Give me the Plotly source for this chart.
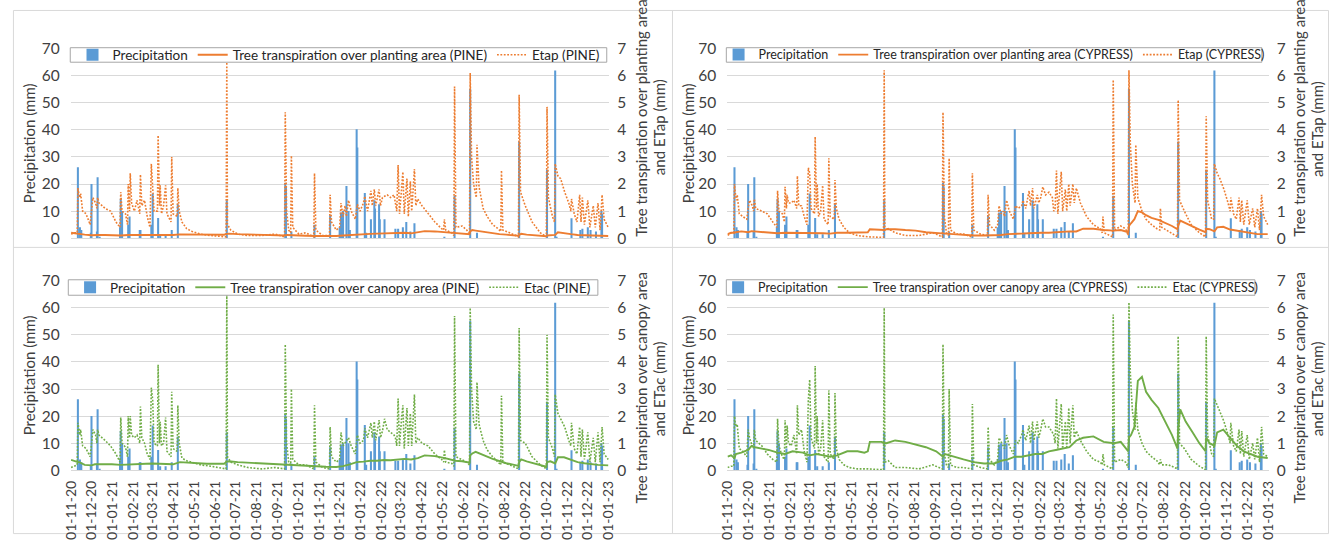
import pandas as pd
import plotly.graph_objects as go

W, H = 1338, 544
START = pd.Timestamp("2020-11-01")

# ---------------- data (day offsets from 2020-11-01) ----------------
precip_day = [10, 13, 15, 29, 30, 38, 39, 42, 72, 73,
              75, 84, 86, 101, 102, 118, 120, 128, 131, 139,
              148, 157, 229, 315, 316, 324, 358, 381, 395, 397,
              399, 400, 405, 408, 410, 420, 421, 432, 434, 441,
              446, 447, 453, 454, 461, 477, 481, 488, 493, 499,
              505, 549, 564, 587, 597, 659, 700, 712, 714, 736,
              749, 752, 760, 764, 772, 780, 781]
precip_mm = [26.2, 4, 3, 2, 20, 2.5, 22.5, 0.5, 4, 14.6,
             10, 5, 8, 3, 3, 5, 16.5, 7.5, 1.5, 1.5,
             3, 12.5, 14, 20.5, 19, 2.5, 5, 8.5, 4, 9.5,
             7, 10, 19.3, 10, 3, 40.2, 33.5, 16.7, 2, 7,
             14, 11, 12.5, 7, 7, 3.5, 3.5, 4, 6, 2.5,
             5.5, 0.5, 15.7, 55.1, 2, 35.7, 25.3, 61.9, 0.5, 7.4,
             3, 3.5, 4, 3, 2.5, 10, 9]

et_day = [0, 5, 9, 10, 11, 13, 14, 17, 22, 28,
          30, 32, 36, 38, 39, 41, 50, 58, 66, 72,
          73, 75, 80, 83, 84, 86, 87, 89, 93, 97,
          101, 102, 104, 108, 112, 116, 118, 120, 122, 127,
          128, 130, 131, 133, 136, 139, 141, 147, 148, 150,
          156, 157, 159, 163, 170, 178, 190, 205, 228, 229,
          230, 235, 245, 260, 280, 300, 314, 315, 317, 320,
          323, 324, 326, 335, 345, 357, 358, 360, 370, 380,
          381, 383, 390, 395, 397, 400, 403, 405, 408, 412,
          418, 421, 425, 430, 432, 436, 441, 443, 446, 448,
          453, 455, 458, 461, 465, 470, 475, 477, 479, 481,
          483, 486, 488, 490, 494, 496, 499, 501, 505, 507,
          510, 516, 525, 535, 545, 548, 549, 551, 560, 563,
          564, 566, 575, 582, 586, 587, 589, 592, 596, 597,
          600, 606, 612, 620, 628, 632, 633, 635, 645, 655,
          658, 659, 661, 668, 678, 690, 699, 700, 702, 708,
          711, 712, 716, 720, 726, 732, 735, 736, 740, 744,
          748, 750, 752, 755, 760, 763, 768, 771, 775, 778,
          781, 784, 790]

etap_pine = [.15, .20, .20, 1.85, 1.7, 1.5, 1.65, 1.0, .9, .5,
             1.0, 1.5, 1.3, 1.1, 1.5, 1.3, 1.1, 1.0, .6, .4,
             1.7, 1.0, .9, .5, 2.0, 1.0, 2.4, 1.3, 1.0, 1.4,
             .9, 2.35, 1.2, 1.4, .8, .4, 2.75, 1.6, 1.0, 1.0,
             3.8, 1.2, 1.95, .9, 1.2, 1.95, .9, .6, 3.0, .9,
             .8, 1.85, 1.0, .6, .35, .25, .15, .1, .05, 6.5,
             .5, .3, .15, .1, .1, .15, .05, 4.65, 1.0, .3,
             .2, 3.05, .4, .15, .2, .05, 2.4, .3, .1, .1,
             1.6, .6, .3, .4, 1.3, .8, 1.2, .8, 1.4, 1.0,
             .7, 1.25, 1.0, 1.3, 1.55, 1.0, 1.75, 1.2, 1.8, 1.2,
             1.8, 1.2, 1.5, 1.55, 1.6, 1.5, 1.6, 1.3, 1.0, 2.7,
             .9, 1.8, 2.45, .9, 2.2, .8, 2.1, 1.0, 2.55, 1.2,
             1.45, 1.2, .9, .6, .35, .3, .7, .3, .2, .1,
             5.6, .4, .45, .3, .15, 6.1, 3.0, 2.0, 1.5, 3.45,
             1.9, 1.1, .8, .5, .35, .25, 2.5, .3, .2, .1,
             .05, 5.3, 1.7, 1.2, .6, .2, .05, 4.85, 1.5, .8,
             .6, 2.75, 2.3, 2.2, 1.7, 1.3, 1.0, 1.45, .9, .6,
             1.6, .6, 1.5, .5, 1.4, .4, 1.2, .4, 1.3, .3,
             1.6, .7, .4]

etac_pine = [.10, .15, .20, 1.75, 1.6, 1.3, 1.5, .9, .8, .5,
             .95, 1.5, 1.3, 1.0, 1.5, 1.3, 1.1, .9, .6, .3,
             1.95, 1.0, .85, .5, 2.0, 1.2, 2.0, 1.3, 1.2, 1.3,
             1.0, 2.35, 1.2, 1.0, .6, .4, 3.05, 2.6, 1.0, .9,
             3.9, 1.0, 1.8, .9, 1.0, 1.95, .7, .5, 2.9, .8,
             .7, 2.4, 1.0, .45, .35, .3, .2, .15, .05, 6.5,
             .5, .3, .2, .1, .05, .1, .05, 4.65, 1.0, .3,
             .2, 3.0, .4, .2, .2, .05, 2.4, .3, .1, .05,
             1.6, .5, .3, .4, 1.4, .9, 1.0, 1.1, 1.2, .9,
             .6, 1.3, 1.0, 1.1, 1.55, 1.2, 1.75, 1.2, 1.8, 1.1,
             1.85, 1.2, 1.45, 1.9, 1.5, 1.4, 1.3, 1.2, .9, 2.65,
             .9, 1.9, 2.4, .8, 2.3, .9, 2.1, .9, 2.8, 1.0,
             1.2, 1.0, .9, .6, .4, .3, .75, .3, .25, .15,
             5.7, .5, .4, .3, .2, 6.0, 3.0, 1.8, 1.5, 3.25,
             1.7, 1.1, .75, .5, .3, .2, 2.75, .3, .2, .1,
             .05, 5.25, 1.1, 1.0, .5, .2, .05, 5.0, 1.2, .8,
             .5, 2.8, 2.1, 1.9, 1.6, 1.1, .9, 1.75, .8, .6,
             1.6, .5, 1.5, .4, 1.4, .3, 1.2, .3, 1.4, .3,
             1.6, .6, .4]

etap_cypress = [.10, .20, .20, 2.0, 1.7, 1.4, 1.6, .9, .8, .7,
                1.1, 1.4, 1.2, 1.0, 1.45, 1.1, 1.0, .9, .6, .4,
                1.75, 1.0, .9, .6, 1.9, 1.1, 1.6, 1.3, 1.3, 1.4,
                1.1, 2.3, 1.2, 1.2, .8, .5, 2.6, 2.4, 1.1, .9,
                3.75, 1.1, 2.0, .8, 1.0, 1.95, .7, .5, 2.95, .8,
                .7, 2.15, 1.1, .7, .4, .2, .1, .05, .03, 6.2,
                .3, .35, .2, .1, .1, .2, .05, 4.65, .8, .2,
                .1, 2.95, .3, .15, .15, .05, 2.4, .3, .15, .1,
                1.6, .5, .3, .5, 1.2, .9, 1.0, .8, 1.4, 1.0,
                .7, 1.2, 1.1, 1.2, 1.4, 1.1, 1.75, 1.2, 1.85, 1.1,
                1.6, 1.3, 1.5, 1.9, 1.6, 1.7, 1.5, 1.0, 1.1, 2.5,
                .9, 1.9, 2.45, 1.0, 1.8, 1.0, 2.0, 1.2, 2.0, 1.3,
                1.85, 1.3, .8, .5, .35, .2, .8, .2, .1, .05,
                5.85, .3, .45, .35, .1, 6.2, 3.5, 2.0, 1.3, 3.45,
                1.5, 1.0, .7, .5, .35, .3, 1.1, .4, .25, .1,
                .05, 5.1, 1.4, 1.0, .5, .2, .05, 4.5, 1.4, .7,
                .7, 2.75, 2.4, 2.2, 1.8, 1.3, 1.0, 1.5, .9, .7,
                1.5, .6, 1.4, .5, 1.4, .5, 1.1, .4, 1.1, .3,
                1.6, .8, .5]

etac_cypress = [.10, .15, .15, 2.0, 1.75, 1.6, 1.7, .8, .7, .5,
                1.5, 1.2, .9, .8, 1.5, 1.1, .9, .6, .4, .3,
                1.9, .9, .5, .4, 1.85, .8, 1.65, 1.0, .9, 1.3,
                .6, 2.4, 1.3, 1.5, .7, .3, 2.6, 3.35, 1.2, .8,
                3.85, 1.0, 2.0, .6, .8, 1.85, .5, .3, 2.95, .6,
                .4, 2.85, .8, .4, .2, .1, .05, .05, .02, 6.0,
                .3, .35, .1, .1, .05, .2, .05, 4.65, .6, .2,
                .1, 3.0, .2, .1, .1, .05, 2.45, .2, .1, .05,
                1.6, .4, .2, .4, 1.2, 1.05, .9, .8, 1.3, .9,
                .6, 1.1, 1.0, 1.3, 1.5, 1.1, 1.65, 1.0, 1.8, 1.1,
                1.8, 1.2, 1.5, 1.9, 1.6, 1.6, 1.4, 1.3, 1.0, 2.65,
                .8, 1.7, 2.45, .8, 1.8, .8, 2.3, 1.0, 2.4, 1.2,
                1.45, 1.1, .7, .4, .3, .2, .6, .2, .1, .05,
                5.75, .3, .4, .3, .1, 6.2, 3.6, 2.2, 1.5, 2.5,
                1.5, 1.0, .7, .5, .35, .2, .4, .2, .2, .1,
                .05, 4.95, 1.0, .8, .4, .15, .02, 4.95, 1.3, .6,
                .5, 2.65, 2.4, 2.2, 1.8, 1.3, 1.0, 1.75, .9, .7,
                1.5, .6, 1.45, .5, 1.3, .4, 1.0, .4, 1.2, .3,
                1.6, .6, .5]

tr_day = [0, 5, 10, 12, 20, 30, 35, 40, 50, 60,
          73, 84, 95, 110, 120, 130, 140, 150, 160, 175,
          190, 200, 205, 208, 225, 229, 232, 245, 260, 275,
          290, 305, 315, 318, 330, 345, 360, 375, 390, 400,
          410, 420, 430, 440, 450, 460, 470, 480, 490, 500,
          510, 520, 535, 550, 565, 575, 586, 587, 590, 595,
          600, 606, 612, 620, 630, 640, 650, 658, 659, 662,
          670, 680, 690, 699, 700, 705, 712, 716, 725, 735,
          745, 755, 765, 775, 790]

trans_plant_pine = [.20, .18, .15, .17, .13, .11, .12, .12, .12, .11,
                    .10, .12, .12, .11, .12, .13, .12, .12, .14, .14,
                    .13, .13, .13, .13, .13, .16, .17, .15, .14, .12,
                    .11, .10, .10, .12, .10, .09, .08, .07, .08, .10,
                    .12, .13, .15, .16, .17, .18, .18, .19, .20, .18,
                    .22, .26, .25, .22, .18, .17, .15, .25, .30, .28,
                    .26, .23, .21, .18, .15, .13, .11, .09, .12, .16,
                    .13, .11, .09, .07, .10, .12, .12, .22, .20, .15,
                    .12, .11, .10, .09, .08]

trans_canopy_pine = [.38, .33, .30, .30, .20, .18, .22, .22, .23, .22,
                     .20, .22, .24, .24, .25, .24, .22, .22, .30, .27,
                     .25, .24, .24, .24, .24, .32, .33, .30, .28, .25,
                     .22, .21, .20, .20, .17, .16, .14, .13, .12, .15,
                     .22, .30, .32, .35, .35, .38, .37, .40, .42, .40,
                     .45, .55, .52, .45, .35, .33, .28, .55, .62, .68,
                     .62, .57, .50, .42, .33, .26, .21, .16, .30, .40,
                     .33, .26, .20, .13, .30, .33, .25, .48, .48, .38,
                     .30, .26, .22, .20, .18]

trans_plant_cypress = [.15, .20, .20, .22, .25, .22, .26, .25, .22, .20,
                       .18, .20, .20, .18, .20, .20, .18, .17, .20, .20,
                       .20, .20, .22, .33, .32, .30, .33, .33, .30, .28,
                       .22, .18, .18, .17, .15, .12, .10, .10, .10, .12,
                       .15, .15, .17, .18, .20, .20, .20, .22, .25, .25,
                       .25, .35, .35, .30, .28, .30, .22, .45, .55, .70,
                       1.00, .95, .85, .75, .68, .58, .45, .33, .45, .65,
                       .55, .45, .32, .22, .35, .33, .25, .40, .42, .32,
                       .28, .22, .18, .15, .15]

trans_canopy_cypress = [.50, .55, .45, .60, .65, .75, .90, .85, .80, .75,
                        .65, .60, .70, .65, .55, .60, .55, .50, .55, .70,
                        .70, .65, .70, 1.05, 1.05, 1.00, 1.00, 1.10, 1.05, .95,
                        .85, .70, .50, .60, .50, .40, .30, .25, .25, .35,
                        .40, .50, .50, .55, .60, .60, .70, .75, .80, .85,
                        1.10, 1.20, 1.25, 1.05, 1.00, 1.05, .70, 1.20, 1.30, 1.60,
                        3.30, 3.45, 2.90, 2.60, 2.30, 1.80, 1.30, .80, 1.50, 2.25,
                        1.80, 1.40, 1.00, .70, 1.20, 1.00, .90, 1.40, 1.50, 1.20,
                        .90, .70, .60, .50, .45]

month_ticks = list(pd.date_range("2020-11-01", "2023-01-01", freq="MS"))

# ---------------- styling ----------------
BLUE, ORANGE, GREEN = "#5B9BD5", "#ED7D31", "#70AD47"
FONT = "Lato, 'Open Sans', sans-serif"
TXT = "#404040"
GRID = "#D9D9D9"


def dates(days):
    return [START + pd.Timedelta(days=int(d)) for d in days]


def fx(x):
    return x / W


def fy(y):
    return 1 - y / H


panels = [
    dict(n="", ys="2", leg="legend", xd=(62.5, 607.5), yd=(236, 40), color=ORANGE,
         tr=trans_plant_pine, et=etap_pine,
         trname="Tree transpiration over planting area (PINE)", etname="Etap (PINE)",
         box=(62, 605, 39, 54), labels=False, lf=13.5),
    dict(n="2", ys="4", leg="legend2", xd=(727, 1275), yd=(236, 40), color=ORANGE,
         tr=trans_plant_cypress, et=etap_cypress,
         trname="Tree transpiration over planting area (CYPRESS)", etname="Etap (CYPRESS)",
         box=(726, 1268, 39, 54), labels=False, lf=12.5),
    dict(n="3", ys="6", leg="legend3", xd=(62.5, 607.5), yd=(476, 280), color=GREEN,
         tr=trans_canopy_pine, et=etac_pine,
         trname="Tree transpiration over canopy area (PINE)", etname="Etac (PINE)",
         box=(60, 596, 279, 295), labels=True, lf=13.5),
    dict(n="4", ys="8", leg="legend4", xd=(727, 1275), yd=(476, 280), color=GREEN,
         tr=trans_canopy_cypress, et=etac_cypress,
         trname="Tree transpiration over canopy area (CYPRESS)", etname="Etac (CYPRESS)",
         box=(726, 1261, 279, 295), labels=True, lf=12.5),
]

fig = go.Figure()
layout = {}
shapes = []
prim_nums = {"": "", "2": "3", "3": "5", "4": "7"}

for p in panels:
    xa = "x" + p["n"]
    yp = "y" + prim_nums[p["n"]]
    ys = "y" + p["ys"]
    fig.add_trace(go.Bar(x=dates(precip_day), y=precip_mm, width=3 * 86400000,
                         marker=dict(color=BLUE, line=dict(width=0)), name="Precipitation",
                         xaxis=xa, yaxis=yp, legend=p["leg"]))
    fig.add_trace(go.Scatter(x=dates(tr_day), y=p["tr"], mode="lines",
                             line=dict(color=p["color"], width=1.9), name=p["trname"],
                             xaxis=xa, yaxis=ys, legend=p["leg"]))
    fig.add_trace(go.Scatter(x=dates(et_day), y=p["et"], mode="lines",
                             line=dict(color=p["color"], width=1.6, dash="1.8px,1.6px"),
                             name=p["etname"], xaxis=xa, yaxis=ys, legend=p["leg"]))

    xkey = "xaxis" + p["n"]
    ypkey = "yaxis" + prim_nums[p["n"]]
    yskey = "yaxis" + p["ys"]
    layout[xkey] = dict(domain=[fx(p["xd"][0]), fx(p["xd"][1])], anchor=yp, type="date",
                        range=["2020-10-31 12:00", "2023-01-01 12:00"],
                        tickvals=month_ticks, tickformat="%d-%m-%y", tickangle=-90,
                        showticklabels=p["labels"], showgrid=False, showline=True,
                        linecolor=GRID, linewidth=1, ticks="", ticklabelstandoff=4,
                        tickfont=dict(family=FONT, size=14, color=TXT), fixedrange=True)
    layout[ypkey] = dict(domain=[fy(p["yd"][0]), fy(p["yd"][1])], anchor=xa,
                         range=[0, 70], dtick=10, tick0=0, showgrid=True, gridcolor=GRID,
                         gridwidth=1, zeroline=False, showline=False, ticks="",
                         ticklabelstandoff=10,
                         tickfont=dict(family=FONT, size=15.5, color=TXT))
    layout[yskey] = dict(overlaying=yp, anchor=xa, side="right", range=[0, 7], dtick=1,
                         tick0=0, showgrid=False, zeroline=False, showline=False, ticks="",
                         ticklabelstandoff=7,
                         tickfont=dict(family=FONT, size=15.5, color=TXT))
    bx0, bx1, by0, by1 = p["box"]
    shapes.append(dict(type="rect", xref="paper", yref="paper", layer="above",
                       x0=fx(bx0), x1=fx(bx1), y0=fy(by1), y1=fy(by0),
                       fillcolor="white", line=dict(color="#A6A6A6", width=1)))
    layout[p["leg"]] = dict(orientation="h", x=fx((bx0 + bx1) / 2), xanchor="center",
                            y=fy((by0 + by1) / 2), yanchor="middle",
                            bgcolor="rgba(0,0,0,0)", borderwidth=0, itemwidth=30,
                            font=dict(family=FONT, size=p["lf"], color="#262626"),
                            traceorder="normal")

# chart-area borders (Excel chart frames)
for x in (4.5, 671.5, 1335.5):
    shapes.append(dict(type="line", xref="paper", yref="paper", x0=fx(x), x1=fx(x),
                       y0=fy(541.5), y1=fy(0.5), line=dict(color=GRID, width=1), layer="below"))
for y in (0.5, 245.5, 541.5):
    shapes.append(dict(type="line", xref="paper", yref="paper", x0=fx(4.5), x1=fx(1335.5),
                       y0=fy(y), y1=fy(y), line=dict(color=GRID, width=1), layer="below"))

titles = [
    ("Precipitation (mm)", 21, 138), ("Precipitation (mm)", 688, 138),
    ("Precipitation (mm)", 21, 378), ("Precipitation (mm)", 688, 378),
    ("Tree transpiration over planting area", 640, 112), ("and ETap (mm)", 658, 121),
    ("Tree transpiration over planting area", 1306, 112), ("and ETap (mm)", 1324, 123),
    ("Tree transpiration over canopy area", 640, 391), ("and ETac (mm)", 658, 392),
    ("Tree transpiration over canopy area", 1306, 391), ("and ETac (mm)", 1324, 392),
]
annotations = [dict(text=t, x=fx(x), y=fy(y), xref="paper", yref="paper", showarrow=False,
                    textangle=-90, xanchor="center", yanchor="middle",
                    font=dict(family=FONT, size=15, color=TXT)) for t, x, y in titles]

fig.update_layout(width=W, height=H, margin=dict(l=0, r=0, t=0, b=0, pad=0),
                  paper_bgcolor="white", plot_bgcolor="rgba(0,0,0,0)",
                  showlegend=True, shapes=shapes, annotations=annotations,
                  font=dict(family=FONT, color=TXT), **layout)

fig.write_html("out.html", config={"displayModeBar": False})
with open("out.html", "r", encoding="utf-8") as f:
    html = f.read()
html = html.replace("<body>", '<body style="margin:0;padding:0;overflow:hidden">', 1)
with open("out.html", "w", encoding="utf-8") as f:
    f.write(html)
